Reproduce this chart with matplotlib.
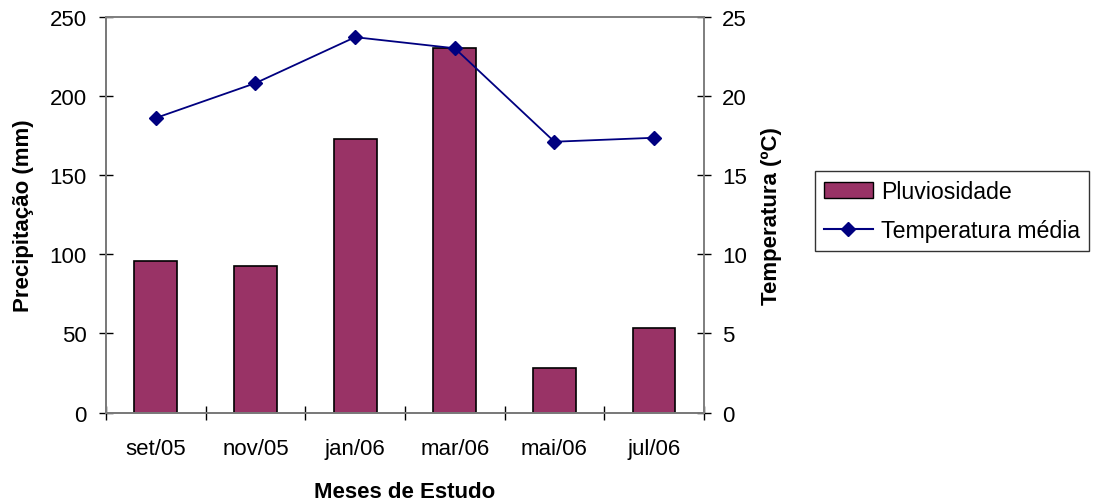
import matplotlib
matplotlib.use("Agg")
import matplotlib.pyplot as plt
from matplotlib.lines import Line2D
from matplotlib.patches import Patch
import numpy as np

plt.rcParams['font.family'] = ['Liberation Sans', 'DejaVu Sans']

months = ["set/05", "nov/05", "jan/06", "mar/06", "mai/06", "jul/06"]
precip = [96, 92.5, 172.5, 230, 28, 53.5]
temp = [18.6, 20.8, 23.7, 23.0, 17.1, 17.35]

FS = 16
fig = plt.figure(figsize=(10.93, 5.02), dpi=100)
ax = fig.add_axes([0.097, 0.176, 0.547, 0.789])
ax2 = ax.twinx()

x = np.arange(len(months))
ax.bar(x, precip, width=0.43, color="#993366", edgecolor="black", linewidth=1.2, zorder=2)
ax2.plot(x, temp, color="#000080", marker="D", markersize=7.5, linewidth=1.3, zorder=3)

ax.set_xlim(-0.5, len(months) - 0.5)
ax.set_ylim(0, 250)
ax2.set_ylim(0, 25)
ax.set_yticks(range(0, 251, 50))
ax2.set_yticks(range(0, 26, 5))
ax.set_xticks(x)
ax.set_xticklabels(months)
ax.set_xticks(np.arange(-0.5, len(months), 1.0), minor=True)
ax.tick_params(axis='x', which='major', length=0, labelsize=FS, pad=18.5)
ax.tick_params(axis='x', which='minor', length=10, direction='inout', width=1)
ax.tick_params(axis='y', labelsize=FS, length=10, direction='inout', width=1, pad=9)
ax2.tick_params(axis='y', labelsize=FS, length=10, direction='inout', width=1, pad=8)

for a in (ax, ax2):
    for s in a.spines.values():
        s.set_color("#808080")
        s.set_linewidth(1.3)
ax.spines['bottom'].set_color("#404040")
ax.spines['left'].set_color("#404040")

ax.set_xlabel("Meses de Estudo", fontsize=FS, fontweight='bold', labelpad=15.5)
ax.set_ylabel("Precipitação (mm)", fontsize=FS, fontweight='bold', labelpad=11)
ax2.set_ylabel("Temperatura (ºC)", fontsize=FS, fontweight='bold', labelpad=10)

handles = [Patch(facecolor="#993366", edgecolor="black", label="Pluviosidade"),
           Line2D([0], [0], color="#000080", marker="D", markersize=7.5, label="Temperatura média")]
leg = fig.legend(handles=handles, loc='center left', bbox_to_anchor=(0.7457, 0.578),
                 fontsize=16.7, frameon=True, fancybox=False, edgecolor="black",
                 handlelength=2.1, borderpad=0.38, labelspacing=0.68, handletextpad=0.35,
                 borderaxespad=0)
leg.get_frame().set_linewidth(1.0)

fig.savefig("out.png", dpi=100)
